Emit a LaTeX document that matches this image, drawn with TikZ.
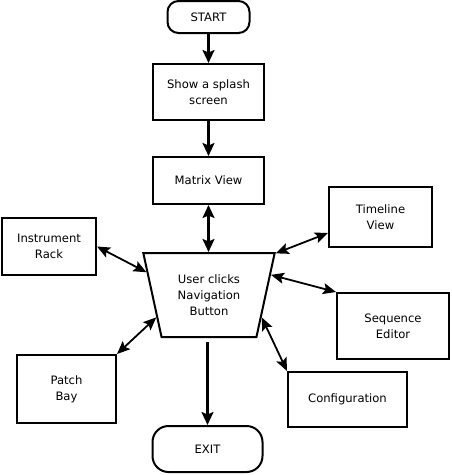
\documentclass[tikz,border=0pt]{standalone}
\usepackage{fontspec}
\setmainfont{DejaVu Sans}
\usetikzlibrary{arrows.meta,shapes.geometric,calc}
\begin{document}
\begin{tikzpicture}[x=1pt,y=-1pt,
  every node/.style={font=\fontsize{11.6}{15.7}\selectfont, align=center, inner sep=0pt},
  box/.style={draw, line width=2pt, rectangle},
  term/.style={draw, line width=2pt, rectangle},
  arr/.style={line width=2.3pt, -{Stealth[length=13pt,width=12pt,inset=2.5pt]}},
  darr/.style={line width=2.3pt, {Stealth[length=13pt,width=12pt,inset=2.5pt]}-{Stealth[length=13pt,width=12pt,inset=2.5pt]}},
  sarr/.style={line width=1.8pt, {Stealth[length=13pt,width=11pt,inset=2.5pt]}-{Stealth[length=13pt,width=11pt,inset=2.5pt]}}]
\useasboundingbox[fill=white] (0,0) rectangle (452,475);

\node[term, rounded corners=11pt, minimum width=82pt, minimum height=32pt] (start) at (208.5,17) {START};
\node[box, minimum width=111pt, minimum height=56pt] (splash) at (208.5,92) {Show a splash\\screen};
\node[box, minimum width=111pt, minimum height=47pt] (matrix) at (208.5,180.5) {Matrix View};
\node[draw, line width=2pt, trapezium, trapezium angle=73.4, shape border rotate=180,
      trapezium stretches=true, minimum width=132pt, minimum height=84pt] (trap) at (209,295) {User clicks\\Navigation\\Button};
\node[box, minimum width=94pt, minimum height=57pt] (rack) at (49,246.5) {Instrument\\Rack};
\node[box, minimum width=103pt, minimum height=60pt] (timeline) at (380.5,217) {Timeline\\View};
\node[box, minimum width=112pt, minimum height=66pt] (seq) at (393,326) {Sequence\\Editor};
\node[box, minimum width=99pt, minimum height=68pt] (patch) at (66.5,389) {Patch\\Bay};
\node[box, minimum width=119pt, minimum height=55pt] (config) at (347.5,399.5) {Configuration};
\node[term, rounded corners=16pt, minimum width=110pt, minimum height=46pt] (exit) at (207.5,449) {EXIT};

\draw[arr] (start) -- (splash);
\draw[arr] (splash) -- (matrix);
\draw[darr] (matrix.south) -- (matrix.south |- trap.north);
\draw[sarr] (rack.east) -- (trap.160.5);
\draw[sarr] ($(timeline.west)+(0,16)$) -- (trap.32);
\draw[sarr] (seq.north west) -- (trap.18.7);
\draw[sarr] (patch.north east) -- (trap.203);
\draw[sarr] (config.north west) -- (trap.337);
\draw[arr] ([yshift=-4pt]trap.south -| exit.north) -- (exit.north);
\end{tikzpicture}
\end{document}
